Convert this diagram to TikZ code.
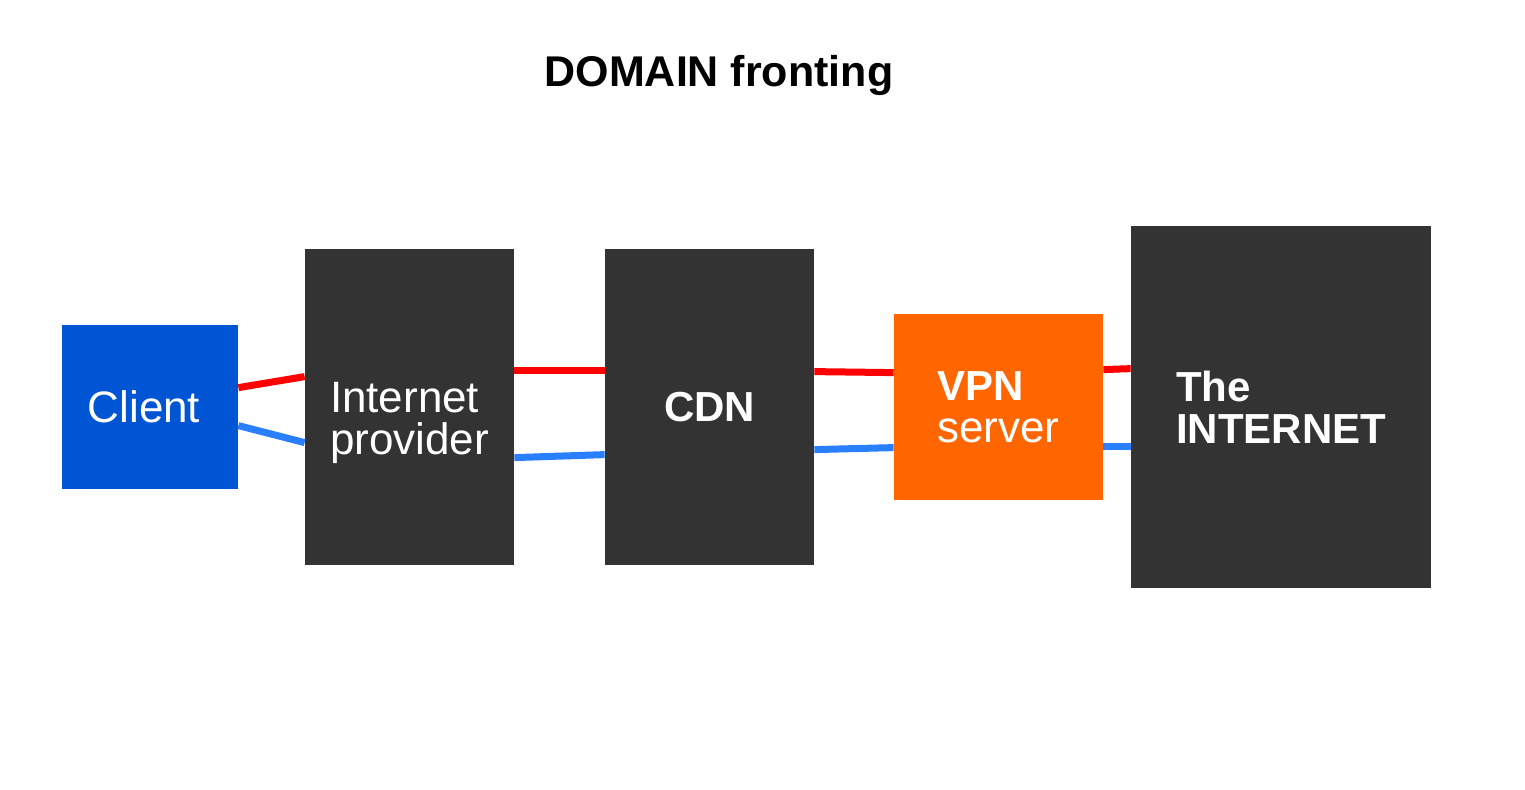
\documentclass[tikz,border=0pt]{standalone}
\usepackage{fontspec}
\setmainfont{Liberation Sans}
\usetikzlibrary{calc}
\definecolor{clientblue}{HTML}{0055D4}
\definecolor{boxgray}{HTML}{333333}
\definecolor{vpnorange}{HTML}{FF6600}
\definecolor{linkblue}{HTML}{2A7FFF}
\definecolor{linkred}{HTML}{FF0000}
\begin{document}
\begin{tikzpicture}[x=0.5pt,y=-0.5pt]
\tikzstyle{box}=[rectangle,inner sep=0pt,text=white,align=left,font=\fontsize{22}{21}\selectfont]
\tikzstyle{boxtext}=[inner sep=0pt,text=white,align=left,font=\fontsize{22}{21}\selectfont]
\tikzstyle{link}=[line width=3.5pt]
\useasboundingbox (0,0) rectangle (1525,789);
\node[font=\bfseries\fontsize{21.5}{21}\selectfont] (title) at (719,75) {DOMAIN fronting};
\node[box,fill=clientblue,minimum width=88pt,minimum height=82pt] (client) at (150,407) {};
\node[boxtext] (clienttext) at ([xshift=-3pt]client.center) {Client};
\node[box,fill=boxgray,minimum width=104.5pt,minimum height=158pt] (isp) at (409.5,407) {};
\node[boxtext] (isptext) at ([yshift=-8pt]isp.center) {Internet\\provider};
\node[box,fill=boxgray,minimum width=104.5pt,minimum height=158pt,font=\bfseries\fontsize{21}{21}\selectfont] (cdn) at (709.5,407) {CDN};
\node[box,fill=vpnorange,minimum width=104.5pt,minimum height=93pt] (vpn) at (998.5,407) {\textbf{\fontsize{21}{21}\selectfont VPN}\\server};
\node[box,fill=boxgray,minimum width=150pt,minimum height=181pt,font=\bfseries\fontsize{21}{21}\selectfont] (net) at (1281,407) {The\\INTERNET};
% red path
\draw[link,linkred] ($(client.north east)+(0,63)$) -- ($(isp.north west)+(0,128)$);
\draw[link,linkred] ($(isp.north east)+(0,122)$) -- ($(cdn.north west)+(0,122)$);
\draw[link,linkred] ($(cdn.north east)+(0,123)$) -- ($(vpn.north west)+(0,59)$);
\draw[link,linkred] ($(vpn.north east)+(0,56)$) -- ($(net.north west)+(0,143)$);
% blue path
\draw[link,linkblue] ($(client.north east)+(0,101)$) -- ($(isp.north west)+(0,194)$);
\draw[link,linkblue] ($(isp.north east)+(0,209)$) -- ($(cdn.north west)+(0,206)$);
\draw[link,linkblue] ($(cdn.north east)+(0,201)$) -- ($(vpn.north west)+(0,134)$);
\draw[link,linkblue] ($(vpn.north east)+(0,133)$) -- ($(net.north west)+(0,221)$);
\end{tikzpicture}
\end{document}
